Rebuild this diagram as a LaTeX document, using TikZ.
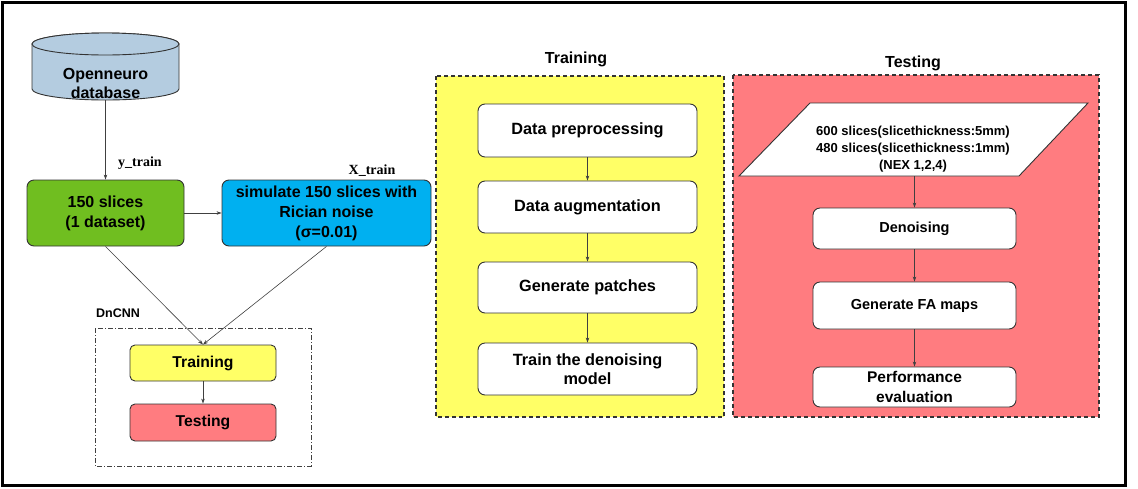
\documentclass[tikz,border=0pt]{standalone}
\usepackage{fontspec}
\setmainfont{Liberation Sans}
\newfontfamily\lblfont{Liberation Serif}
\usetikzlibrary{arrows.meta}
\definecolor{dbblue}{HTML}{B4CCE0}
\definecolor{mygreen}{HTML}{70BE20}
\definecolor{myblue}{HTML}{00B0F0}
\definecolor{myyellow}{HTML}{FFFF66}
\definecolor{mypink}{HTML}{FF7C80}
\begin{document}
\begin{tikzpicture}[x=1pt,y=-1pt,
  box/.style={draw=black!80, line width=0.9pt, rounded corners=7pt, inner sep=0pt, align=center,
    font=\bfseries\fontsize{15.7}{19}\selectfont},
  wbox/.style={box, fill=white, minimum width=219pt, font=\bfseries\fontsize{16.3}{19.5}\selectfont},
  tbox/.style={box, fill=white, minimum width=203pt, font=\bfseries\fontsize{14.5}{20}\selectfont},
  arr/.style={draw=black!75, line width=0.6pt, -{Stealth[length=5pt,width=3.5pt]}},
  group/.style={draw=black!80, line width=1.1pt, dash pattern=on 4pt off 3pt},
  heading/.style={font=\bfseries\fontsize{16}{18}\selectfont, inner sep=0pt},
  lbl/.style={font=\lblfont\bfseries\fontsize{14}{16}\selectfont, inner sep=0pt},
]
\useasboundingbox (0,0) rectangle (1138,488);
\draw[line width=2.5pt] (2.5,2.5) rectangle (1125.5,485.5);

% database cylinder
\draw[draw=black!80, line width=0.9pt, fill=dbblue]
  (32,44) -- (32,89) arc[start angle=180, end angle=360, x radius=73.5pt, y radius=11pt]
  -- (179,44) arc[start angle=0, end angle=180, x radius=73.5pt, y radius=11pt] -- cycle;
\draw[draw=black!80, line width=0.9pt, fill=dbblue] (105.5,44) ellipse[x radius=73.5pt, y radius=11pt];
\node[align=center, inner sep=0pt, font=\bfseries\fontsize{16}{19}\selectfont] (db) at (105.5,83.5) {Openneuro\\database};
\coordinate (dbbot) at (105.5,100);

% left nodes
\node[box, fill=mygreen, minimum width=157pt, minimum height=66pt, font=\bfseries\fontsize{16}{20}\selectfont] (slices) at (105.5,213) {150 slices\\(1 dataset)};
\node[box, fill=myblue, minimum width=209pt, minimum height=66pt, font=\bfseries\fontsize{16}{20}\selectfont] (sim) at (326.5,213) {simulate 150 slices with\\Rician noise\\(σ=0.01)};

\node[lbl] (ylbl) at (140,163) {y\_train};
\node[lbl] (xlbl) at (372,171) {X\_train};

% DnCNN group
\draw[draw=black!75, line width=0.9pt, dash pattern=on 5pt off 2pt on 1pt off 2pt] (95,328) rectangle (311,466);
\node[anchor=west, inner sep=0pt, font=\bfseries\fontsize{12.5}{14}\selectfont] (dncnn) at (96,313) {DnCNN};
\node[box, fill=myyellow, minimum width=146pt, minimum height=36pt, rounded corners=5pt] (dtrain) at (203,363) {Training};
\node[box, fill=mypink, minimum width=146pt, minimum height=37pt, rounded corners=5pt] (dtest) at (203,422.5) {Testing};

\draw[arr] (dbbot) -- (slices.north);
\draw[arr] (slices.east) -- (sim.west);
\draw[arr] (slices.south) -- (dtrain.north);
\draw[arr] (sim.south) -- (dtrain.north);
\draw[arr] (dtrain.south) -- (dtest.north);

% Training group
\draw[group, fill=myyellow] (436,76) rectangle (724,417);
\node[heading] (trainhead) at (576,59) {Training};
\node[wbox, minimum height=53pt] (dp) at (587.5,130.5) {Data preprocessing};
\node[wbox, minimum height=52pt] (da) at (587.5,207) {Data augmentation};
\node[wbox, minimum height=51pt] (gp) at (587.5,287.5) {Generate patches};
\node[wbox, minimum height=52pt] (tdm) at (587.5,369) {Train the denoising\\model};
\draw[arr] (dp) -- (da);
\draw[arr] (da) -- (gp);
\draw[arr] (gp) -- (tdm);

% Testing group
\draw[group, fill=mypink] (733,75) rectangle (1099,417);
\node[heading] (testhead) at (913,63) {Testing};
\draw[draw=black!80, line width=0.9pt, fill=white] (810,103) -- (1088,103) -- (1019,176) -- (739,176) -- cycle;
\node[align=center, inner sep=0pt, font=\bfseries\fontsize{13}{17}\selectfont] (input) at (913,149.5)
  {600 slices(slicethickness:5mm)\\480 slices(slicethickness:1mm)\\(NEX 1,2,4)};
\coordinate (inbot) at (914.5,176);
\node[tbox, minimum height=41pt] (den) at (914.5,228.5) {Denoising};
\node[tbox, minimum height=47pt] (gfa) at (914.5,305.5) {Generate FA maps};
\node[tbox, minimum height=40pt, font=\bfseries\fontsize{15.5}{20}\selectfont] (pe) at (914.5,387) {Performance\\evaluation};
\draw[arr] (inbot) -- (den.north);
\draw[arr] (den) -- (gfa);
\draw[arr] (gfa) -- (pe);
\end{tikzpicture}
\end{document}
